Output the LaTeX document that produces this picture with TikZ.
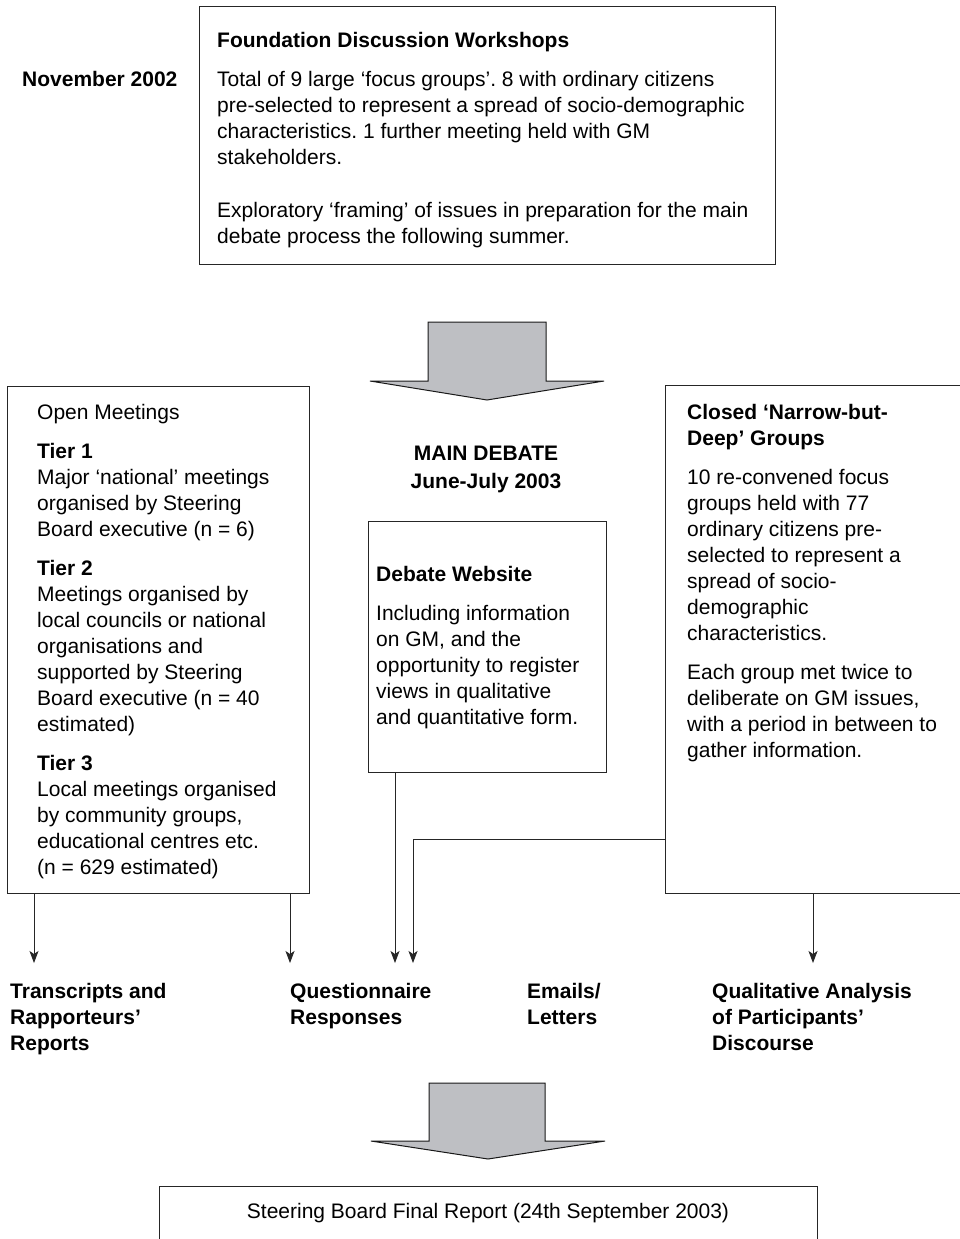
\documentclass[tikz,border=0pt]{standalone}
\usepackage{fontspec}
\setmainfont{Liberation Sans}
\usetikzlibrary{arrows.meta}
\newcommand{\firstln}{\rule{0pt}{17pt}}
\definecolor{arrowgray}{RGB}{190,191,195}
\frenchspacing
\begin{document}
\begin{tikzpicture}[x=1pt,y=-1pt,
  box/.style={draw=black!85,line width=1.1pt,anchor=north west,inner sep=0pt},
  txt/.style={anchor=north west,inner sep=0pt,align=left,font=\fontsize{21}{26}\selectfont},
  lbl/.style={anchor=north west,inner sep=0pt,align=left,font=\fontsize{21}{26}\selectfont\bfseries},
  conn/.style={draw=black!85,line width=0.9pt,-{Stealth[length=12pt,width=9pt,inset=3pt]}},
  bigarrow/.style={draw=black!90,line width=1pt,fill=arrowgray,line join=miter}]
\useasboundingbox (0,0) rectangle (959,1239);

% ---- top box
\node[box,minimum width=576pt,minimum height=258pt] (topbox) at (199,6) {};
\node[txt] (toptxt) at (217,30.5) {\firstln\textbf{Foundation Discussion Workshops}\\[13pt]
Total of 9 large ‘focus groups’. 8 with ordinary citizens\\
pre-selected to represent a spread of socio-demographic\\
characteristics. 1 further meeting held with GM\\
stakeholders.\\[27pt]
Exploratory ‘framing’ of issues in preparation for the main\\
debate process the following summer.};
\node[lbl] (nov) at (22,69.5) {\firstln November 2002};

% ---- big arrow 1
\draw[bigarrow] (428,322) -- (546,322) -- (546,381) -- (604,381) -- (487,400) -- (370,381) -- (428,381) -- cycle;

% ---- left box
\node[box,minimum width=302pt,minimum height=507pt] (leftbox) at (7,386) {};
\node[txt] (lefttxt) at (37,402.5) {\firstln Open Meetings\\[13pt]
\textbf{Tier 1}\\
Major ‘national’ meetings\\
organised by Steering\\
Board executive (n = 6)\\[13pt]
\textbf{Tier 2}\\
Meetings organised by\\
local councils or national\\
organisations and\\
supported by Steering\\
Board executive (n = 40\\
estimated)\\[13pt]
\textbf{Tier 3}\\
Local meetings organised\\
by community groups,\\
educational centres etc.\\
(n = 629 estimated)};

% ---- main debate
\node[anchor=north,inner sep=0pt,align=center,font=\fontsize{21}{28}\selectfont\bfseries] (main) at (486,443.5) {\firstln MAIN DEBATE\\June-July 2003};

% ---- website box
\node[box,minimum width=238pt,minimum height=251pt] (webbox) at (368,521) {};
\node[txt] (webtxt) at (376,564.5) {\firstln\textbf{Debate Website}\\[13pt]
Including information\\
on GM, and the\\
opportunity to register\\
views in qualitative\\
and quantitative form.};

% ---- right box
\node[box,minimum width=310pt,minimum height=508pt] (rightbox) at (665,385) {};
\node[txt] (righttxt) at (687,402.5) {\firstln\textbf{Closed ‘Narrow-but-}\\
\textbf{Deep’ Groups}\\[13pt]
10 re-convened focus\\
groups held with 77\\
ordinary citizens pre-\\
selected to represent a\\
spread of socio-\\
demographic\\
characteristics.\\[13pt]
Each group met twice to\\
deliberate on GM issues,\\
with a period in between to\\
gather information.};

% ---- outputs
\node[lbl] (trans) at (10,981.5) {\firstln Transcripts and\\Rapporteurs’\\Reports};
\node[lbl] (quest) at (290,981.5) {\firstln Questionnaire\\Responses};
\node[lbl] (emails) at (527,981.5) {\firstln Emails/\\Letters};
\node[lbl] (qual) at (712,981.5) {\firstln Qualitative Analysis\\of Participants’\\Discourse};

\coordinate (e1) at (34,963);
\coordinate (e2) at (290,963);
\coordinate (e3) at (395,963);
\coordinate (e4) at (413,963);
\coordinate (c4) at (413,839);
\coordinate (e5) at (813,963);

\draw[conn] (leftbox.south -| e1) -- (e1);
\draw[conn] (leftbox.south -| e2) -- (e2);
\draw[conn] (webbox.south -| e3) -- (e3);
\draw[conn] (rightbox.west |- c4) -- (c4) -- (e4);
\draw[conn] (rightbox.south -| e5) -- (e5);

% ---- big arrow 2
\draw[bigarrow] (429,1083) -- (545,1083) -- (545,1141) -- (605,1141) -- (488,1159) -- (371,1141) -- (429,1141) -- cycle;

% ---- bottom box
\node[box,minimum width=658pt,minimum height=90pt] (finalbox) at (159,1186) {};
\node[inner sep=0pt,font=\fontsize{21}{26}\selectfont] (finaltxt) at (488,1213) {Steering Board Final Report (24th September 2003)};
\end{tikzpicture}
\end{document}
